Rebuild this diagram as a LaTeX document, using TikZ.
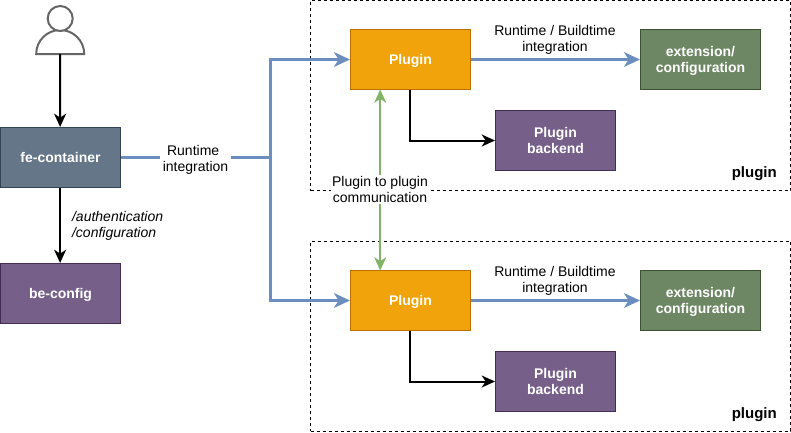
\documentclass[tikz,border=0pt]{standalone}
\usepackage{fontspec}
\setmainfont{Liberation Sans}
\usetikzlibrary{arrows.meta}
\definecolor{feFill}{HTML}{647687}\definecolor{feLine}{HTML}{314354}
\definecolor{puFill}{HTML}{76608A}\definecolor{puLine}{HTML}{432D57}
\definecolor{orFill}{HTML}{F0A30A}\definecolor{orLine}{HTML}{BD7000}
\definecolor{grFill}{HTML}{6D8764}\definecolor{grLine}{HTML}{3A5431}
\definecolor{blueLine}{HTML}{6C8EBF}\definecolor{greenLine}{HTML}{82B366}
\definecolor{personLine}{HTML}{666666}
\newcommand\btext[1]{\raisebox{-4.1pt}[0pt][0pt]{\begin{tabular}{@{}c@{}}#1\end{tabular}}}
\tikzset{
 x=0.75pt,y=-0.75pt,
 box/.style={draw,line width=0.75pt,minimum width=90pt,minimum height=45pt,inner sep=0pt,align=center,text=white,font=\fontsize{10.5}{12}\selectfont\bfseries},
 febox/.style={box,fill=feFill,draw=feLine},
 pubox/.style={box,fill=puFill,draw=puLine},
 orbox/.style={box,fill=orFill,draw=orLine},
 grbox/.style={box,fill=grFill,draw=grLine},
 region/.style={draw,line width=0.75pt,dash pattern=on 2.25pt off 2.25pt,minimum width=360pt,minimum height=142.5pt,inner sep=0pt},
 conn/.style={line width=1.5pt,black,-{Stealth[length=10pt,width=9pt,inset=3pt]}},
 blueconn/.style={line width=2.25pt,blueLine,-{Stealth[length=12pt,width=11pt,inset=3.5pt]}},
 greenconn/.style={line width=1.5pt,greenLine,{Stealth[length=10pt,width=9pt,inset=3pt]}-{Stealth[length=10pt,width=9pt,inset=3pt]}},
 lab/.style={align=center,font=\fontsize{10.5}{12}\selectfont,inner sep=1pt},
 whitelab/.style={lab,fill=white},
 person/.style={draw=personLine,line width=1.5pt,fill=white},
 regionlabel/.style={font=\fontsize{11.25}{13}\selectfont\bfseries,inner sep=0pt,anchor=east},
}
\begin{document}
\begin{tikzpicture}
\useasboundingbox (0,0) rectangle (791,432);
\node[region] (reg1) at (550.5,95.5) {};
\node[region] (reg2) at (550.5,336) {};
\node[regionlabel] (reg1l) at (777,173.5) {plugin};
\node[regionlabel] (reg2l) at (777,414.5) {plugin};

\node[febox] (fe) at (60.5,157.5) {\btext{fe-container}};
\node[pubox] (be) at (60.5,293.5) {\btext{be-config}};
\node[orbox] (p1) at (410.5,59.5) {\btext{Plugin}};
\node[orbox] (p2) at (410.5,300.5) {\btext{Plugin}};
\node[grbox] (e1) at (700.5,59.5) {\btext{extension/\\configuration}};
\node[grbox] (e2) at (700.5,300.5) {\btext{extension/\\configuration}};
\node[pubox] (b1) at (555.5,140.5) {\btext{Plugin\\backend}};
\node[pubox] (b2) at (555.5,381.5) {\btext{Plugin\\backend}};

% person
\draw[person] (36.2,54) arc[start angle=180,end angle=360,radius=24] -- cycle;
\node[person,circle,minimum size=18.75pt,inner sep=0pt] (head) at (60.2,18.5) {};
\coordinate (personfoot) at (60.2,54);

\draw[conn] (personfoot) -- ([xshift=-0.3pt]fe.north);
\draw[conn] ([xshift=-0.3pt]fe.south) -- ([xshift=-0.3pt]be.north);
\coordinate (elbow) at (270,157.5);
\draw[blueconn] (fe.east) -- (elbow) |- (p1.west);
\draw[blueconn] (elbow) |- (p2.west);
\draw[blueconn] (p1.east) -- (e1.west);
\draw[blueconn] (p2.east) -- (e2.west);
\draw[conn] ([xshift=-0.3pt]p1.south) |- (b1.west);
\draw[conn] ([xshift=-0.3pt]p2.south) |- (b2.west);
\coordinate (g1) at (380.2,89.5);
\coordinate (g2) at (380.2,270.5);
\draw[greenconn] (g1) -- (g2);

\node[whitelab,minimum width=53pt] (l1) at (195.5,159.5) {Runtime\hbox to 3.5pt{}\\integration};
\node[whitelab] (l2) at (380,189.5) {Plugin to plugin\\communication};
\node[lab] (l3) at (555,39.5) {Runtime / Buildtime\\integration};
\node[lab] (l4) at (555,280.5) {Runtime / Buildtime\\integration};
\node[lab,align=left,anchor=west,font=\fontsize{10.5}{12}\selectfont\itshape] (l5) at (70.5,226) {/authentication\\/configuration};
\end{tikzpicture}
\end{document}
